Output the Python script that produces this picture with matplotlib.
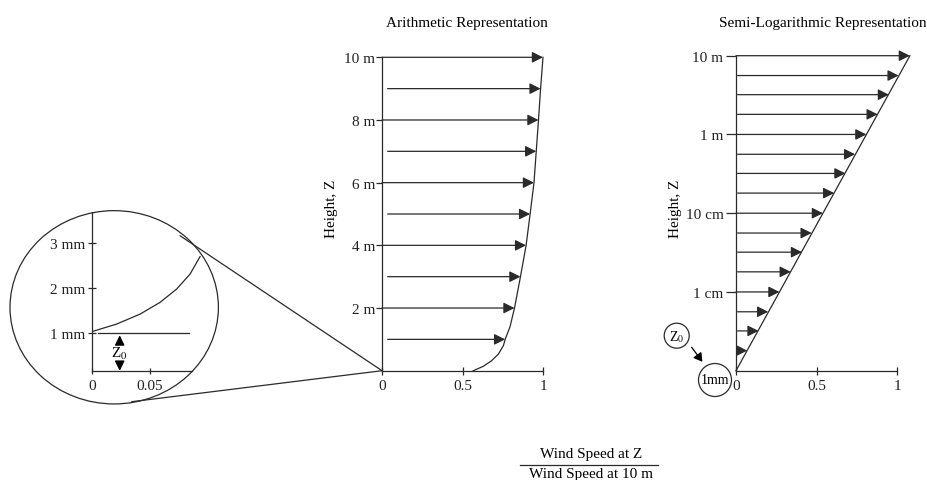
"""
Wind profile near the ground: arithmetic vs semi-logarithmic representation,
with a zoomed inset of the roughness length z0.
"""
import matplotlib
matplotlib.use("Agg")
import matplotlib.pyplot as plt
from matplotlib.patches import Ellipse, ConnectionPatch
from matplotlib.lines import Line2D

# ── Data ──────────────────────────────────────────────────────────────────────

# arithmetic panel (height in m, speed ratio)
ARITH_TICKS = [2, 4, 6, 8, 10]
ARITH_TICK_LABELS = ["2 m", "4 m", "6 m", "8 m", "10 m"]
ARROW_HEIGHTS = [1, 2, 3, 4, 5, 6, 7, 8, 9, 10]
ARROW_SPEEDS = [0.765, 0.823, 0.86, 0.895, 0.92, 0.944, 0.958, 0.972, 0.985, 1.0]
PROFILE_HEIGHTS = [0, 0.14, 0.32, 0.53, 0.8, 1, 1.4, 2, 3, 4, 5, 6, 7, 8, 9, 10]
PROFILE_SPEEDS = [0.567, 0.629, 0.681, 0.723, 0.754, 0.765, 0.795, 0.823,
                  0.86, 0.895, 0.92, 0.944, 0.958, 0.972, 0.985, 1.0]

# semi-log panel
LOG_TICKS = [0.01, 0.1, 1, 10]
LOG_TICK_LABELS = ["1 cm", "10 cm", "1 m", "10 m"]
LOG_HEIGHTS = [0.0018, 0.0032, 0.0056, 0.01, 0.018, 0.032, 0.056, 0.1,
               0.18, 0.32, 0.56, 1.0, 1.8, 3.2, 5.6, 10.0]
LOG_SPEEDS = [0.07, 0.14, 0.20, 0.27, 0.34, 0.41, 0.47, 0.54,
              0.61, 0.68, 0.74, 0.81, 0.88, 0.95, 1.01, 1.08]
LOG_LINE_HEIGHTS = [0.001, 10]
LOG_LINE_SPEEDS = [0, 1.08]

# inset (height in mm)
INSET_TICKS = [1, 2, 3]
INSET_TICK_LABELS = ["1 mm", "2 mm", "3 mm"]
INSET_HEIGHTS = [1.03, 1.2, 1.42, 1.68, 1.98, 2.31, 2.70]
INSET_SPEEDS = [0, 0.0214, 0.0414, 0.0585, 0.0729, 0.0843, 0.0929]
Z0_MM = 1.0

SPEED_TICKS = [0, 0.5, 1]
SPEED_TICK_LABELS = ["0", "0.5", "1"]

# ── Style ─────────────────────────────────────────────────────────────────────

FIG_W, FIG_H = 927, 481
LINE = "#2a2a2a"
LW = 0.9
FS = 11

plt.rcParams["font.family"] = ["Liberation Serif", "DejaVu Serif"]
plt.rcParams["mathtext.fontset"] = "stix"
plt.rcParams["font.size"] = FS


def _fig(x, y):
    """Pixel position (from top-left) -> figure fraction."""
    return x / FIG_W, 1 - y / FIG_H


def _box(left, top, right, bottom):
    return [left / FIG_W, 1 - bottom / FIG_H, (right - left) / FIG_W, (bottom - top) / FIG_H]


def _arrow(ax, x0, x1, y, **kw):
    ax.annotate("", xy=(x1, y), xytext=(x0, y),
                arrowprops=dict(arrowstyle="-|>,head_length=0.6,head_width=0.3",
                                color=LINE, lw=LW, shrinkA=0, shrinkB=0), **kw)


def _bare_axes(fig, rect):
    ax = fig.add_axes(rect)
    ax.set_facecolor("none")
    for side in ("top", "right"):
        ax.spines[side].set_visible(False)
    for side in ("left", "bottom"):
        ax.spines[side].set_color(LINE)
        ax.spines[side].set_linewidth(LW)
    ax.tick_params(colors=LINE, labelcolor="#222222", width=LW, labelsize=FS)
    return ax


# ── Panels ────────────────────────────────────────────────────────────────────

def draw_arithmetic(fig):
    ax = _bare_axes(fig, _box(382, 58.3, 543, 371.7))
    ax.set_xlim(0, 1)
    ax.set_ylim(0, 10)
    ax.spines["left"].set_bounds(0, 10)
    ax.spines["bottom"].set_bounds(0, 1)
    ax.set_yticks(ARITH_TICKS, ARITH_TICK_LABELS)
    ax.set_xticks(SPEED_TICKS, SPEED_TICK_LABELS)
    ax.tick_params(axis="y", direction="out", length=4, pad=1)
    ax.tick_params(axis="x", direction="inout", length=6, pad=3)

    ax.plot(PROFILE_SPEEDS, PROFILE_HEIGHTS, color=LINE, lw=LW, clip_on=False)
    for z, u in zip(ARROW_HEIGHTS, ARROW_SPEEDS):
        start = 0 if z in ARITH_TICKS else 0.035
        _arrow(ax, start, u, z)
    return ax


def draw_semilog(fig):
    ax = _bare_axes(fig, _box(736, 56.7, 736 + 1.1 * 161, 371.7))
    ax.set_yscale("log")
    ax.set_xlim(0, 1.1)
    ax.set_ylim(0.001, 10)
    ax.spines["bottom"].set_bounds(0, 1)
    ax.set_yticks(LOG_TICKS, LOG_TICK_LABELS)
    ax.yaxis.set_minor_locator(matplotlib.ticker.NullLocator())
    ax.set_xticks(SPEED_TICKS, SPEED_TICK_LABELS)
    ax.tick_params(axis="y", direction="out", length=7, pad=2)
    ax.tick_params(axis="x", direction="inout", length=6, pad=3)

    ax.plot(LOG_LINE_SPEEDS, LOG_LINE_HEIGHTS, color=LINE, lw=LW, clip_on=False)
    for z, u in zip(LOG_HEIGHTS, LOG_SPEEDS):
        start = 0 if z in LOG_TICKS else 0.01
        _arrow(ax, start, u, z)
    return ax


def draw_inset(fig, ax_mid):
    ax = _bare_axes(fig, _box(91.7, 213, 91.7 + 0.095 * 1166.6, 372.3))
    ax.set_xlim(0, 0.095)
    ax.set_ylim(0.15, 3.69)
    ax.spines["bottom"].set_bounds(0, 0.0857)
    ax.set_yticks(INSET_TICKS, INSET_TICK_LABELS)
    ax.set_xticks([0, 0.05], ["0", "0.05"])
    ax.tick_params(axis="y", direction="inout", length=6, pad=2)
    ax.tick_params(axis="x", direction="inout", length=5, pad=3)

    ax.plot(INSET_SPEEDS, INSET_HEIGHTS, color=LINE, lw=LW)
    ax.plot([0.0057, 0.083], [Z0_MM, Z0_MM], color=LINE, lw=LW)

    # z0 double arrow: two small heads with the label between them
    style = dict(arrowstyle="-|>,head_length=0.55,head_width=0.27", color="black",
                 lw=LW, shrinkA=0, shrinkB=0)
    ax.annotate("", xy=(0.024, Z0_MM - 0.05), xytext=(0.024, 0.77), arrowprops=style)
    ax.annotate("", xy=(0.024, 0.16), xytext=(0.024, 0.34), arrowprops=style)
    ax.text(0.024, 0.56, r"Z$_0$", ha="center", va="center", fontsize=FS)

    # magnifier circle + connecting lines
    fig.add_artist(Ellipse(_fig(114.2, 308.3), 208.4 / FIG_W, 193.3 / FIG_H,
                           transform=fig.transFigure, fill=False, ec=LINE, lw=LW))
    for px in [(180, 236.7), (131.7, 402.7)]:
        fig.add_artist(ConnectionPatch(xyA=(0, 0), coordsA=ax_mid.transData,
                                       xyB=_fig(*px), coordsB=fig.transFigure,
                                       color=LINE, lw=LW))
    return ax


def draw_annotations(fig):
    fig.text(*_fig(466.7, 23), "Arithmetic Representation", ha="center", va="center", fontsize=FS)
    fig.text(*_fig(823, 23), "Semi-Logarithmic Representation", ha="center", va="center", fontsize=FS)
    for x in (331.7, 675):
        fig.text(*_fig(x, 209), "Height, Z", rotation=90, ha="center", va="center", fontsize=FS)

    # speed ratio label as a fraction
    fig.text(*_fig(590.8, 455), "Wind Speed at Z", ha="center", va="center", fontsize=FS)
    fig.text(*_fig(590.8, 475), "Wind Speed at 10 m", ha="center", va="center", fontsize=FS)
    fig.add_artist(Line2D([520 / FIG_W, 658 / FIG_W], [1 - 465.5 / FIG_H] * 2,
                          transform=fig.transFigure, color=LINE, lw=LW))

    # z0 = 1 mm callout on the semi-log panel
    for (cx, cy), r, label in [((676.7, 336.7), 12.5, r"Z$_0$"), ((715, 381), 16.5, "1mm")]:
        fig.add_artist(Ellipse(_fig(cx, cy), 2 * r / FIG_W, 2 * r / FIG_H,
                               transform=fig.transFigure, fill=False, ec=LINE, lw=LW))
        fig.text(*_fig(cx, cy), label, ha="center", va="center", fontsize=FS - 1)
    fig.add_artist(matplotlib.patches.FancyArrowPatch(
        _fig(690, 346), _fig(704, 365), transform=fig.transFigure,
        arrowstyle="-|>,head_length=5,head_width=3", color="black", lw=LW))


def main() -> None:
    fig = plt.figure(figsize=(FIG_W / 100, FIG_H / 100), dpi=100)
    ax_mid = draw_arithmetic(fig)
    draw_semilog(fig)
    draw_inset(fig, ax_mid)
    draw_annotations(fig)
    fig.savefig("out.png", dpi=100, facecolor="white")
    plt.close(fig)


if __name__ == "__main__":
    main()
